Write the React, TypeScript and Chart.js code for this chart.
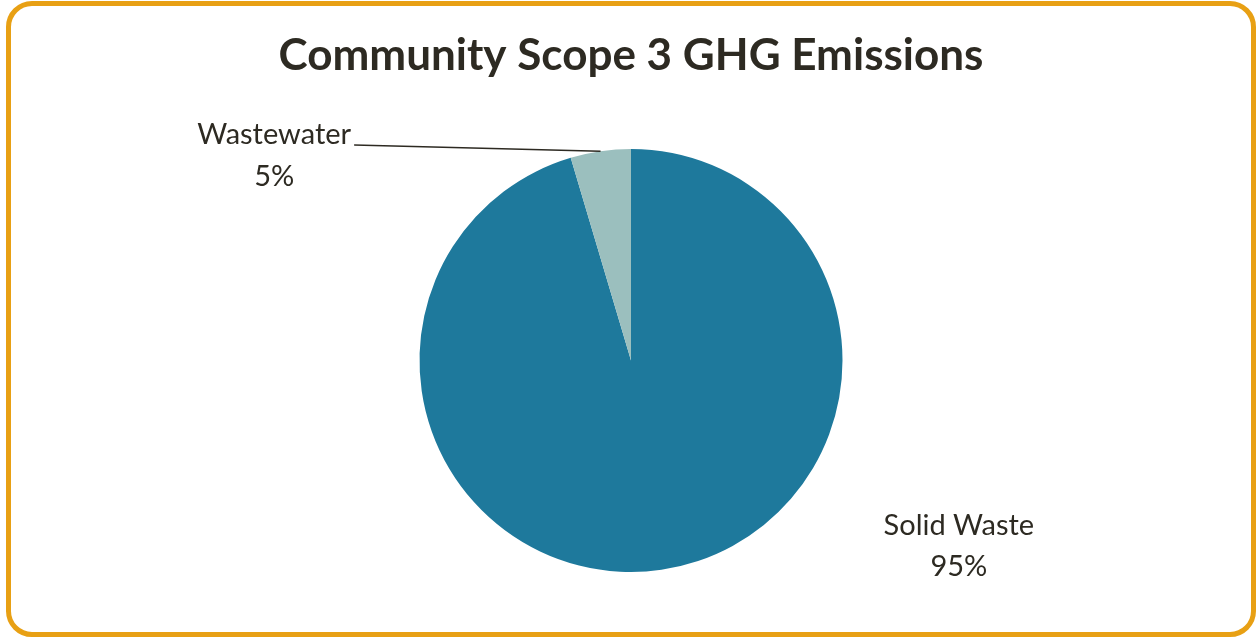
import React, { useEffect, useRef } from "react";
import { Chart, registerables } from "chart.js";

Chart.register(...registerables);

const categories = ["Solid Waste", "Wastewater"];
const values = [95.4, 4.6];
const percentLabels = ["95%", "5%"];
const colors = ["#1E799C", "#9BBFBE"];

const TEXT_COLOR = "#2D2A22";
const FONT = "Lato, 'Open Sans', sans-serif";

const labelPlugin = {
  id: "sliceLabels",
  afterDraw(chart: any) {
    const ctx = chart.ctx;
    const meta = chart.getDatasetMeta(0);
    ctx.save();
    ctx.fillStyle = TEXT_COLOR;
    ctx.font = `29px ${FONT}`;
    ctx.textAlign = "center";
    ctx.textBaseline = "middle";
    meta.data.forEach((arc: any, i: number) => {
      const { x, y, outerRadius: r, startAngle, endAngle } = arc.getProps(
        ["x", "y", "outerRadius", "startAngle", "endAngle"],
        true
      );
      const mid = (startAngle + endAngle) / 2;
      if (i === 0) {
        const lx = x + 1.55 * r;
        const ly = y + 0.78 * r;
        ctx.fillText(categories[i], lx, ly);
        ctx.fillText(percentLabels[i], lx, ly + 41);
      } else {
        const lx = x - 1.687 * r;
        const ly = y - 1.066 * r;
        ctx.fillText(categories[i], lx, ly);
        ctx.fillText(percentLabels[i], lx, ly + 42);
        const w = ctx.measureText(categories[i]).width;
        ctx.beginPath();
        ctx.strokeStyle = "#2D2A22";
        ctx.lineWidth = 1.5;
        ctx.moveTo(lx + w / 2 + 3, ly + 10);
        ctx.lineTo(x + Math.cos(mid) * r, y + Math.sin(mid) * r);
        ctx.stroke();
      }
    });
    ctx.restore();
  },
};

export default function App() {
  const ref = useRef<HTMLCanvasElement | null>(null);
  useEffect(() => {
    if (!ref.current) return;
    const chart = new Chart(ref.current, {
      type: "pie",
      data: {
        labels: categories,
        datasets: [
          {
            data: values,
            backgroundColor: colors,
            borderWidth: 0,
          },
        ],
      },
      options: {
        animation: false,
        responsive: true,
        maintainAspectRatio: false,
        layout: { padding: { left: 5, right: 0, top: 0, bottom: 66 } },
        plugins: {
          legend: { display: false },
          tooltip: { enabled: false },
          title: {
            display: true,
            text: "Community Scope 3 GHG Emissions",
            color: TEXT_COLOR,
            font: { family: FONT, size: 44, weight: "bold", lineHeight: 1.2 },
            padding: { top: 29, bottom: 67.2 },
          },
        },
      },
      plugins: [labelPlugin],
    });
    return () => chart.destroy();
  }, []);

  return (
    <div
      style={{
        position: "fixed",
        left: 0,
        top: 0,
        width: 1257,
        height: 638,
        background: "#ffffff",
      }}
    >
      <div
        style={{
          position: "absolute",
          left: 6,
          top: 1,
          width: 1250,
          height: 636,
          boxSizing: "border-box",
          border: "5.5px solid #E8A014",
          borderRadius: 26,
        }}
      />
      <div style={{ position: "absolute", left: 0, top: 0, width: 1257, height: 638 }}>
        <canvas ref={ref} />
      </div>
    </div>
  );
}
